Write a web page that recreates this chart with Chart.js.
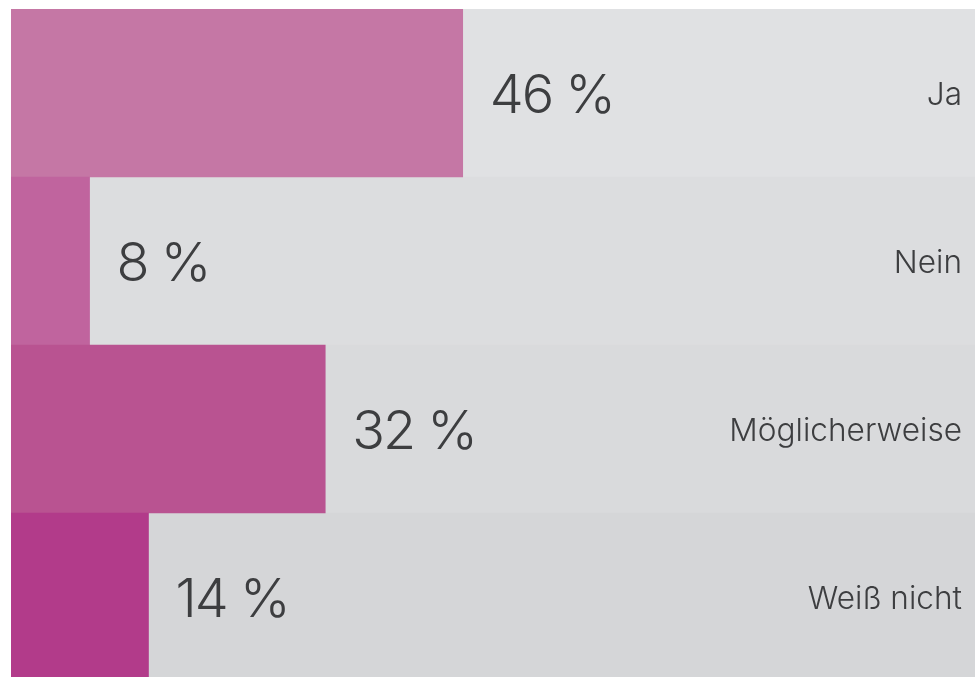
<!DOCTYPE html>
<html>
<head>
<meta charset="utf-8">
<script src="https://cdn.jsdelivr.net/npm/chart.js@4/dist/chart.umd.min.js"></script>
<style>
  html, body { margin: 0; padding: 0; background: #ffffff; overflow: hidden; }
  #wrap { position: relative; width: 993px; height: 681px; }
</style>
</head>
<body>
<div id="wrap"><canvas id="c"></canvas></div>
<script>
const categories = ['Ja', 'Nein', 'Möglicherweise', 'Weiß nicht'];
const values = [46, 8, 32, 14];
const fullScale = [100, 100, 100, 100];
const valueLabels = ['46 %', '8 %', '32 %', '14 %'];
const barColors = ['#c577a5', '#c0649e', '#b95391', '#b23b8a'];
const trackColors = ['#e0e1e3', '#dcdddf', '#d9dadc', '#d5d6d8'];

const labelPlugin = {
  id: 'rowLabels',
  afterDatasetsDraw(chart) {
    const ctx = chart.ctx;
    const xs = chart.scales.x;
    const ys = chart.scales.y;
    ctx.save();
    ctx.fillStyle = '#3d3e40';
    ctx.textBaseline = 'alphabetic';
    categories.forEach((cat, i) => {
      const y = ys.getPixelForValue(i);
      const xEnd = xs.getPixelForValue(values[i]);
      ctx.font = '300 54px Inter';
      ctx.letterSpacing = '-2px';
      ctx.textAlign = 'left';
      ctx.fillText(valueLabels[i], xEnd + 27, y + 20);
      ctx.font = '300 31.6px Inter';
      ctx.letterSpacing = '0px';
      ctx.textAlign = 'right';
      ctx.fillText(cat, 962, y + 11.5);
    });
    ctx.restore();
  }
};

new Chart(document.getElementById('c'), {
  type: 'bar',
  data: {
    labels: categories,
    datasets: [
      { data: values, backgroundColor: barColors, order: 0, borderWidth: 0 },
      { data: fullScale, backgroundColor: trackColors, order: 1, borderWidth: 0 }
    ]
  },
  options: {
    indexAxis: 'y',
    responsive: true,
    maintainAspectRatio: false,
    animation: false,
    layout: { padding: { left: 11, top: 9, right: 0, bottom: 0 } },
    datasets: { bar: { categoryPercentage: 1, barPercentage: 1 } },
    plugins: { legend: { display: false }, tooltip: { enabled: false } },
    scales: {
      x: { display: false, min: 0, max: 100, stacked: false },
      y: { display: false, stacked: true }
    }
  },
  plugins: [labelPlugin]
});
</script>
</body>
</html>
